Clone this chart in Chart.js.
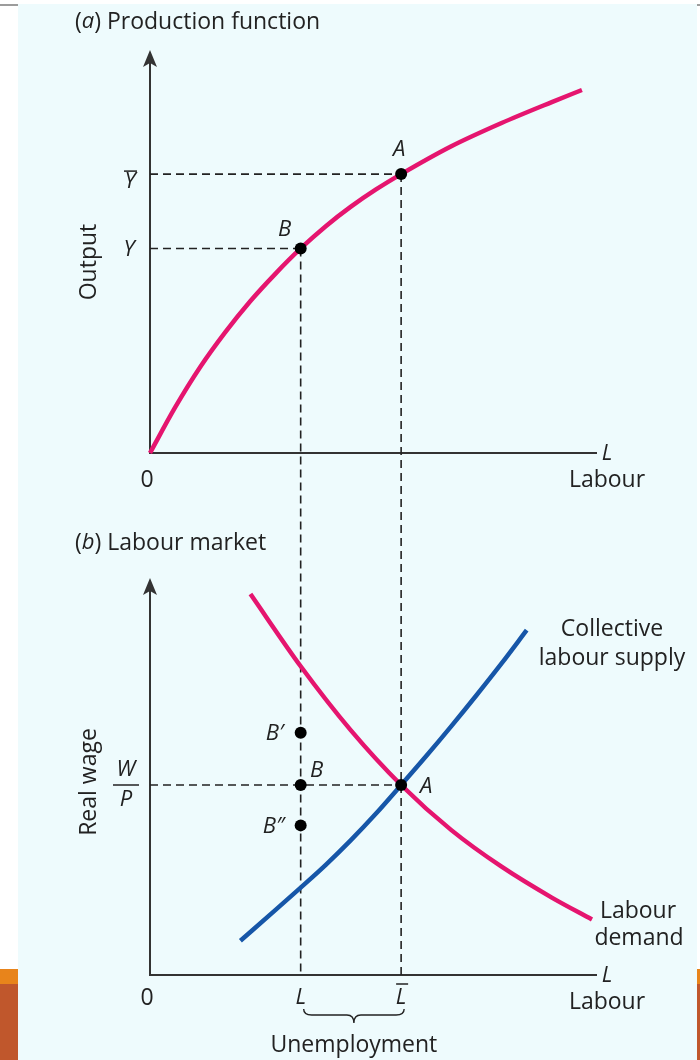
<!DOCTYPE html>
<html>
<head>
<meta charset="utf-8">
<script src="https://cdn.jsdelivr.net/npm/chart.js@4.4.1/dist/chart.umd.min.js"></script>
<style>
    html, body { margin: 0; padding: 0; background: #fff; }
    body { width: 700px; height: 1060px; position: relative; overflow: hidden; }
    .panel { position: absolute; left: 18px; top: 4px; width: 679px; height: 1056px; background: #eefbfd; }
    .rule { position: absolute; top: 4px; height: 2px; background: #9c9c9c; }
    .band { position: absolute; top: 969px; height: 15px; background: #e8841b; }
    .foot { position: absolute; top: 984px; height: 76px; background: #c0572c; }
    #chart { position: absolute; left: 0; top: 0; }
</style>
</head>
<body>
<div class="panel"></div>
<div class="rule" style="left:0;width:18px"></div>
<div class="rule" style="left:697px;width:3px"></div>
<div class="band" style="left:0;width:18px"></div>
<div class="foot" style="left:0;width:18px"></div>
<div class="band" style="left:697px;width:3px"></div>
<div class="foot" style="left:697px;width:3px"></div>
<canvas id="chart" width="700" height="1060"></canvas>
<script>
(function(){
    // (a) production function: labour -> output
    var prodL = [0, 0.5, 1, 1.5, 2, 2.5, 3, 3.5, 4, 4.5, 5, 6, 7, 8, 8.6];
    var prodY = [0, 0.98, 1.85, 2.6, 3.27, 3.86, 4.4, 4.88, 5.3, 5.67, 6.0, 6.6, 7.1, 7.55, 7.81];

    // (b) labour market: labour -> real wage
    var demandL = [2, 3, 4, 5, 6, 7, 8, 8.8];
    var demandW = [8.02, 6.5, 5.15, 4.0, 3.05, 2.28, 1.63, 1.17];
    var supplyL = [1.8, 2.5, 3, 3.5, 4, 4.5, 5, 5.5, 6, 6.5, 7, 7.5];
    var supplyW = [0.72, 1.37, 1.84, 2.32, 2.84, 3.4, 4.0, 4.61, 5.24, 5.89, 6.56, 7.26];

    // marked levels
    var lBar = 5, lLow = 3;          // L-bar and L
    var yBar = 6, yLow = 4.4;        // Y-bar and Y
    var wp = 4;                      // W/P
    var bPrimeW = [5.1, 3.15];       // B' and B''

    // axis extents (in data units)
    var X_END = 8.9;
    var TOP_END = 8.67;
    var BOT_END = 8.36;

    // plot frame in pixels: both panels share one chart area
    var AREA = {left: 150, right: 597, top: 50, bottom: 975};
    var TOP_ZERO = 453;
    var topPx = (TOP_ZERO - AREA.top) / TOP_END;
    var TOP_MIN = -(AREA.bottom - TOP_ZERO) / topPx;
    var botPx = (AREA.bottom - 785) / wp;
    var BOT_MAX = (AREA.bottom - AREA.top) / botPx;

    var PINK = '#e5156f', BLUE = '#1656a8', INK = '#222', AXIS = '#333';
    var ROMAN = "23px 'Open Sans'", ITALIC = "italic 22px 'Open Sans'";

    function pts(xs, ys) {
        return xs.map(function(v, i){ return {x: v, y: ys[i]}; });
    }

    function dashed(data, axis) {
        return {type: 'line', data: data, yAxisID: axis, borderColor: INK, borderWidth: 1.6,
                borderDash: [8, 5], pointRadius: 0, clip: false, order: 3};
    }

    function curve(data, axis, color) {
        return {type: 'line', data: data, yAxisID: axis, borderColor: color, borderWidth: 4.5,
                cubicInterpolationMode: 'monotone', pointRadius: 0, clip: false, order: 2};
    }

    function dots(data, axis) {
        return {type: 'scatter', data: data, yAxisID: axis, pointRadius: 6, pointBackgroundColor: '#000',
                pointBorderWidth: 0, clip: false, order: 1};
    }

    function txt(ctx, s, x, y, font, align) {
        ctx.font = font;
        ctx.textAlign = align || 'center';
        ctx.fillText(s, x, y);
    }

    function arrowUp(ctx, x, tip) {
        ctx.beginPath();
        ctx.moveTo(x, tip);
        ctx.lineTo(x + 7, tip + 17);
        ctx.lineTo(x, tip + 13);
        ctx.lineTo(x - 7, tip + 17);
        ctx.closePath();
        ctx.fill();
    }

    function axes(ctx, x0, y0, yTip, xEnd) {
        ctx.beginPath();
        ctx.moveTo(x0, yTip + 12);
        ctx.lineTo(x0, y0);
        ctx.lineTo(xEnd, y0);
        ctx.stroke();
        arrowUp(ctx, x0, yTip);
    }

    var overlay = {
        id: 'overlay',
        beforeDatasetsDraw: function(chart) {
            var ctx = chart.ctx, sx = chart.scales.x, st = chart.scales.yTop, sb = chart.scales.yBot;
            ctx.save();
            ctx.strokeStyle = AXIS;
            ctx.fillStyle = AXIS;
            ctx.lineWidth = 2;
            axes(ctx, sx.getPixelForValue(0), st.getPixelForValue(0), st.getPixelForValue(TOP_END), sx.getPixelForValue(X_END));
            axes(ctx, sx.getPixelForValue(0), sb.getPixelForValue(0), sb.getPixelForValue(BOT_END), sx.getPixelForValue(X_END));
            ctx.restore();
        },
        afterDatasetsDraw: function(chart) {
            var ctx = chart.ctx, sx = chart.scales.x, st = chart.scales.yTop, sb = chart.scales.yBot;
            var x0 = sx.getPixelForValue(0), xe = sx.getPixelForValue(X_END);
            var xA = sx.getPixelForValue(lBar), xB = sx.getPixelForValue(lLow);
            var t0 = st.getPixelForValue(0), b0 = sb.getPixelForValue(0);
            var yYb = st.getPixelForValue(yBar), yY = st.getPixelForValue(yLow);
            var yW = sb.getPixelForValue(wp);
            ctx.save();
            ctx.fillStyle = INK;
            ctx.strokeStyle = INK;
            ctx.textBaseline = 'middle';

            // panel titles
            [['(a) Production function', 22], ['(b) Labour market', 543]].forEach(function(t){
                var parts = t[0].match(/^\((.)\)(.*)$/);
                var x = 75;
                ctx.textAlign = 'left';
                ctx.font = ROMAN; ctx.fillText('(', x, t[1]); x += ctx.measureText('(').width;
                ctx.font = ITALIC; ctx.fillText(parts[1], x, t[1]); x += ctx.measureText(parts[1]).width;
                ctx.font = ROMAN; ctx.fillText(')' + parts[2], x, t[1]);
            });

            // rotated axis titles
            [['Output', 262], ['Real wage', 782]].forEach(function(t){
                ctx.save();
                ctx.translate(89, t[1]);
                ctx.rotate(-Math.PI / 2);
                txt(ctx, t[0], 0, 0, ROMAN);
                ctx.restore();
            });

            // top panel labels
            txt(ctx, 'Y', x0 - 20, yYb + 8, ITALIC);
            ctx.lineWidth = 1.5;
            ctx.beginPath(); ctx.moveTo(x0 - 26, yYb - 3); ctx.lineTo(x0 - 13, yYb - 3); ctx.stroke();
            txt(ctx, 'Y', x0 - 21, yY + 1, ITALIC);
            txt(ctx, 'A', xA - 2, yYb - 24, ITALIC);
            txt(ctx, 'B', xB - 16, yY - 19, ITALIC);
            txt(ctx, '0', x0 - 3, t0 + 27, ROMAN);
            txt(ctx, 'L', xe + 10, t0 + 1, ITALIC);
            txt(ctx, 'Labour', xe + 10, t0 + 27, ROMAN);

            // bottom panel labels
            txt(ctx, 'W', x0 - 24, yW - 15, ITALIC);
            txt(ctx, 'P', x0 - 24, yW + 15, ITALIC);
            ctx.lineWidth = 1.5;
            ctx.beginPath(); ctx.moveTo(x0 - 37, yW); ctx.lineTo(x0 - 11, yW); ctx.stroke();
            txt(ctx, 'B\u2032', xB - 26, sb.getPixelForValue(bPrimeW[0]) + 1, ITALIC);
            txt(ctx, 'B', xB + 16, yW - 14, ITALIC);
            txt(ctx, 'A', xA + 25, yW + 2, ITALIC);
            txt(ctx, 'B\u2033', xB - 27, sb.getPixelForValue(bPrimeW[1]) + 1, ITALIC);
            txt(ctx, '0', x0 - 3, b0 + 23, ROMAN);
            txt(ctx, 'L', xB, b0 + 23, ITALIC);
            txt(ctx, 'L', xA, b0 + 23, ITALIC);
            ctx.beginPath(); ctx.moveTo(xA - 5, b0 + 9); ctx.lineTo(xA + 7, b0 + 9); ctx.stroke();
            txt(ctx, 'L', xe + 10, b0 + 1, ITALIC);
            txt(ctx, 'Labour', xe + 10, b0 + 27, ROMAN);
            txt(ctx, 'Collective', 612, 629, ROMAN);
            txt(ctx, 'labour supply', 612, 658, ROMAN);
            txt(ctx, 'Labour', 638, 911, ROMAN);
            txt(ctx, 'demand', 639, 938, ROMAN);

            // unemployment brace between L and L-bar
            var l = xB + 3, r = xA + 3, m = (l + r) / 2, top = b0 + 34, mid = top + 9;
            ctx.lineWidth = 1.4;
            ctx.beginPath();
            ctx.moveTo(l, top);
            ctx.quadraticCurveTo(l, mid - 3, l + 8, mid - 3);
            ctx.lineTo(m - 7, mid - 3);
            ctx.quadraticCurveTo(m, mid - 3, m, mid + 5);
            ctx.quadraticCurveTo(m, mid - 3, m + 7, mid - 3);
            ctx.lineTo(r - 8, mid - 3);
            ctx.quadraticCurveTo(r, mid - 3, r, top);
            ctx.stroke();
            txt(ctx, 'Unemployment', m, b0 + 70, ROMAN);
            ctx.restore();
        }
    };

    new Chart(document.getElementById('chart'), {
        type: 'line',
        data: {
            datasets: [
                dashed([{x: 0, y: yBar}, {x: lBar, y: yBar}], 'yTop'),
                dashed([{x: 0, y: yLow}, {x: lLow, y: yLow}], 'yTop'),
                dashed([{x: lBar, y: yBar}, {x: lBar, y: TOP_MIN}], 'yTop'),
                dashed([{x: lLow, y: yLow}, {x: lLow, y: TOP_MIN}], 'yTop'),
                dashed([{x: 0, y: wp}, {x: lBar, y: wp}], 'yBot'),
                curve(pts(prodL, prodY), 'yTop', PINK),
                curve(pts(demandL, demandW), 'yBot', PINK),
                curve(pts(supplyL, supplyW), 'yBot', BLUE),
                dots([{x: lBar, y: yBar}, {x: lLow, y: yLow}], 'yTop'),
                dots([{x: lBar, y: wp}, {x: lLow, y: wp}, {x: lLow, y: bPrimeW[0]}, {x: lLow, y: bPrimeW[1]}], 'yBot')
            ]
        },
        options: {
            responsive: false,
            animation: false,
            layout: {padding: {left: AREA.left, right: 700 - AREA.right, top: AREA.top, bottom: 1060 - AREA.bottom}},
            plugins: {legend: {display: false}, tooltip: {enabled: false}},
            scales: {
                x: {type: 'linear', min: 0, max: X_END, display: false},
                yTop: {type: 'linear', min: TOP_MIN, max: TOP_END, display: false},
                yBot: {type: 'linear', min: 0, max: BOT_MAX, display: false}
            }
        },
        plugins: [overlay]
    });
})();
</script>
</body>
</html>
